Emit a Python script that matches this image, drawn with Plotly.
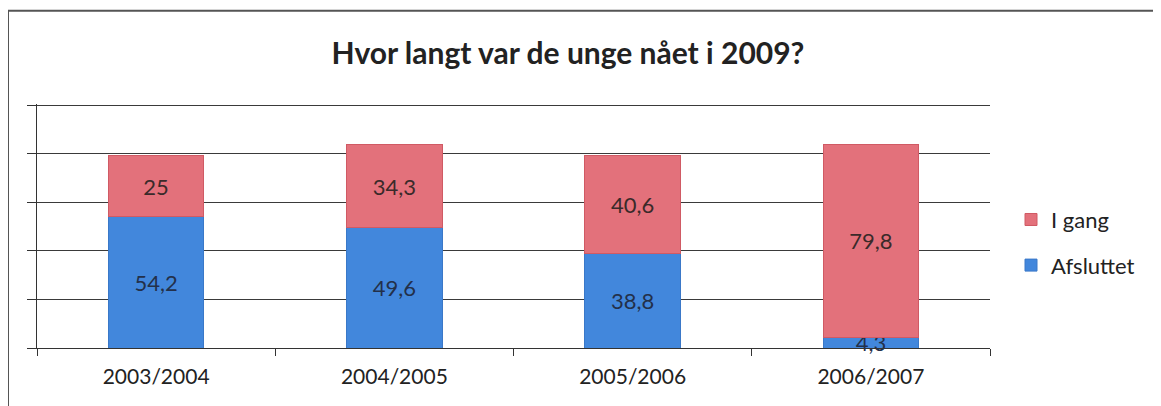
import plotly.graph_objects as go

categories = ["2003/2004", "2004/2005", "2005/2006", "2006/2007"]
afsluttet = [54.2, 49.6, 38.8, 4.3]
i_gang = [25, 34.3, 40.6, 79.8]
series_names = ["Afsluttet", "I gang"]
title_text = "Hvor langt var de unge nået i 2009?"

OFF = 8  # default page body margin
W, H = 1161 - OFF, 406 - OFF
YMAX = 100.6
L, R, B = 37 - OFF, 990 - OFF, 348 - OFF
T = B - (348 - 105) * YMAX / 100
pw, ph = R - L, B - T


def fmt(v):
    return f"{v:g}".replace(".", ",")


def px(x):
    return (x - OFF - L) / pw


def py(y):
    return (B - (y - OFF)) / ph


FONT = "Lato"
blue = "#4287DC"
red = "#E3717B"

fig = go.Figure()
fig.add_trace(go.Bar(
    x=categories, y=afsluttet, name=series_names[0],
    marker=dict(color=blue, line=dict(color="#3A78C8", width=1)),
    text=[fmt(v) for v in afsluttet], textposition="inside",
    insidetextanchor="middle", constraintext="none", cliponaxis=False,
    textfont=dict(family=FONT, size=22, color="#23304A"),
    legendrank=2, legendgroup="a",
))
fig.add_trace(go.Bar(
    x=categories, y=i_gang, name=series_names[1],
    marker=dict(color=red, line=dict(color="#D05A64", width=1)),
    text=[fmt(v) for v in i_gang], textposition="inside",
    insidetextanchor="middle", constraintext="none", cliponaxis=False,
    textfont=dict(family=FONT, size=22, color="#3A2A2A"),
    legendrank=1, legendgroup="b",
))

fig.update_layout(
    width=W, height=H,
    barmode="stack", bargap=0.6,
    margin=dict(l=L, r=W - R, t=T, b=H - B, pad=0, autoexpand=False),
    paper_bgcolor="white", plot_bgcolor="white",
    font=dict(family=FONT, color="#222222"),
    title=dict(text="<b>" + title_text + "</b>", x=(568 - OFF) / W,
               xanchor="center", y=1 - (53 - OFF) / H, yanchor="middle",
               font=dict(family=FONT, size=30, color="#222222")),
    showlegend=True,
    legend=dict(x=px(1011), y=py(242.5), xanchor="left", yanchor="middle",
                traceorder="grouped", tracegroupgap=14,
                font=dict(family=FONT, size=22, color="#222222"),
                bgcolor="rgba(0,0,0,0)"),
    xaxis=dict(showline=True, linecolor="#333333", linewidth=1,
               ticks="outside", tickson="boundaries", ticklen=7,
               tickcolor="#333333", showgrid=False,
               tickfont=dict(family=FONT, size=21, color="#222222"),
               ticklabelstandoff=10),
    yaxis=dict(range=[0, YMAX], tickvals=[0, 20, 40, 60, 80, 100],
               showticklabels=False,
               showline=True, linecolor="#333333", linewidth=1,
               ticks="outside", ticklen=9, tickcolor="#333333",
               showgrid=True, gridcolor="#3A3A3A", gridwidth=1.3,
               zeroline=False),
    shapes=[
        dict(type="line", xref="paper", yref="paper",
             x0=px(8), x1=px(8), y0=py(10), y1=py(406),
             line=dict(color="#555555", width=2)),
        dict(type="line", xref="paper", yref="paper",
             x0=px(8), x1=px(1155), y0=py(10), y1=py(10),
             line=dict(color="#555555", width=2)),
    ],
)

fig.write_html("out.html")
